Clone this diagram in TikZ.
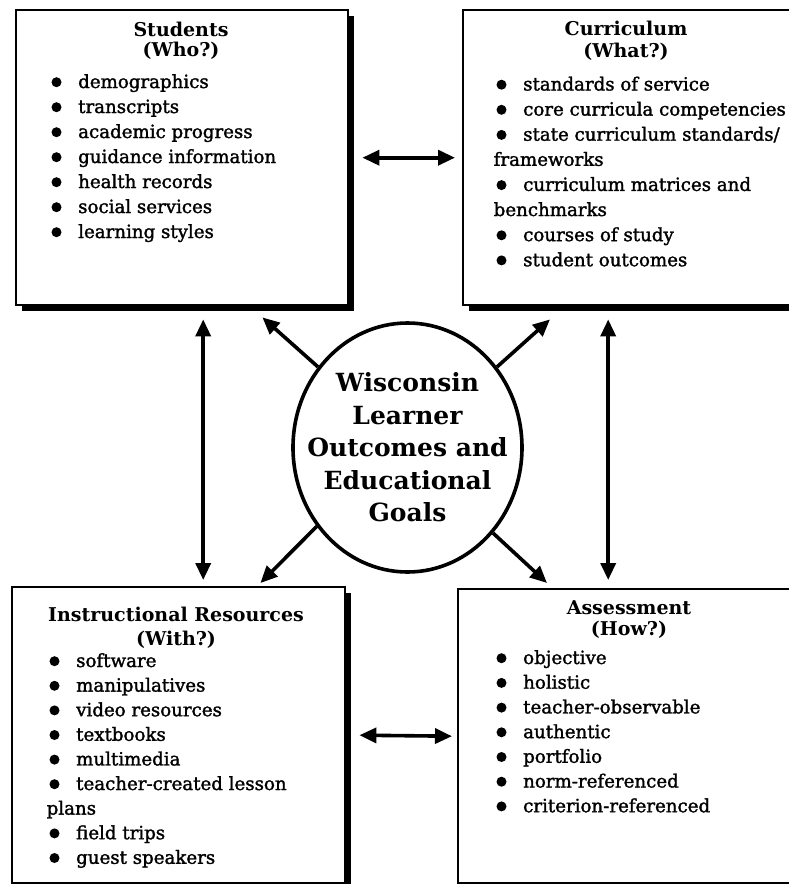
\documentclass[tikz,border=0pt]{standalone}
\usepackage{fontspec}
\setmainfont{DejaVu Serif}
\newfontfamily\entryfont{DejaVu Serif}[FakeBold=1.6]
\usetikzlibrary{arrows.meta,shapes.geometric,shadows}

\tikzset{
  panel/.style={draw=black, line width=2.4pt, fill=white, anchor=north west,
    inner sep=0pt,
    drop shadow={shadow xshift=6pt, shadow yshift=-6pt, fill=black, opacity=1}},
  head/.style={font=\fontsize{19}{22}\selectfont\bfseries, anchor=base, inner sep=0pt},
  entry/.style={font=\entryfont\fontsize{18.2}{22}\selectfont, anchor=base west, inner sep=0pt},
  hub/.style={ellipse, draw=black, line width=3.6pt, fill=white,
    minimum width=229pt, minimum height=249pt, inner sep=0pt},
  hubtext/.style={font=\fontsize{25}{32.5}\selectfont\bfseries, align=center, inner sep=0pt},
  link/.style={line width=3.6pt, {Triangle[length=17pt,width=15pt]}-{Triangle[length=17pt,width=15pt]}},
  spoke/.style={line width=3.6pt, -{Triangle[length=17pt,width=15pt]}},
}

% #1 name prefix, #2 x of text start, #3 first baseline, #4 line step,
% #5 list of text/mark pairs (mark 1 = bulleted line, 0 = continuation line)
\newcommand\panelitems[5]{%
  \foreach \txt/\mk [count=\i] in {#5} {
    \ifnum\mk=1
      \node[entry] (#1-\i) at (#2, #3+#4*\i-#4) {\txt};
      \fill ([shift={(-21.5pt,5.8pt)}]#1-\i.base west) circle (5pt);
    \else
      \node[entry] (#1-\i) at (#2-29.5, #3+#4*\i-#4) {\txt};
    \fi
  }}

\begin{document}
\begin{tikzpicture}[x=1pt, y=-1pt]
  \useasboundingbox (0,0) rectangle (789,884);

  % four panels
  \node[panel, minimum width=332pt, minimum height=295pt] (stu) at (15,9) {};
  \node[panel, minimum width=338pt, minimum height=295pt] (cur) at (462,9) {};
  \node[panel, minimum width=333pt, minimum height=296pt] (ins) at (11,586) {};
  \node[panel, minimum width=343pt, minimum height=294pt] (ass) at (457,588) {};

  % Students
  \node[head] (stu-h1) at (181,36.5) {Students};
  \node[head] (stu-h2) at (181,56.5) {(Who?)};
  \panelitems{stu}{78}{88}{25}{demographics/1, transcripts/1, academic progress/1,
    guidance information/1, health records/1, social services/1, learning styles/1}

  % Curriculum
  \node[head] (cur-h1) at (626,35) {Curriculum};
  \node[head] (cur-h2) at (626,57) {(What?)};
  \panelitems{cur}{523}{90.5}{25.1}{standards of service/1, core curricula competencies/1,
    state curriculum standards{/}/1, frameworks/0, curriculum matrices and/1,
    benchmarks/0, courses of study/1, student outcomes/1}

  % Instructional Resources
  \node[head] (ins-h1) at (176,621) {Instructional Resources};
  \node[head] (ins-h2) at (176,645.5) {(With?)};
  \panelitems{ins}{76}{667}{24.6}{software/1, manipulatives/1, video resources/1,
    textbooks/1, multimedia/1, teacher-created lesson/1, plans/0, field trips/1,
    guest speakers/1}

  % Assessment
  \node[head] (ass-h1) at (629,614) {Assessment};
  \node[head] (ass-h2) at (629,635) {(How?)};
  \panelitems{ass}{523}{664}{24.7}{objective/1, holistic/1, teacher-observable/1,
    authentic/1, portfolio/1, norm-referenced/1, criterion-referenced/1}

  % central goal
  \node[hub] (core) at (407.5,447.5) {};
  \node[hubtext] (coretext) at (core.center)
    {Wisconsin\\Learner\\Outcomes and\\Educational\\Goals};

  % links between panels
  \draw[link] ([xshift=13pt]stu.east) -- ([xshift=-7pt]cur.west);
  \draw[link] ([xshift=13pt]ins.east) -- ([xshift=-5pt]ass.west);
  \draw[link] ([xshift=21pt,yshift=-13pt]stu.south) -- ([xshift=24.5pt,yshift=6pt]ins.north);
  \draw[link] ([xshift=-24pt,yshift=-13pt]cur.south) -- ([xshift=-21.5pt,yshift=8pt]ass.north);

  % spokes from the goal to each panel
  \draw[spoke] (core.138.3) -- ([xshift=-87pt,yshift=-11pt]stu.south east);
  \draw[spoke] (core.42.6) -- ([xshift=88pt,yshift=-13pt]cur.south west);
  \draw[spoke] (core.221.7) -- ([xshift=-86pt,yshift=3pt]ins.north east);
  \draw[spoke] (core.315.7) -- ([xshift=90pt,yshift=5pt]ass.north west);
\end{tikzpicture}
\end{document}
